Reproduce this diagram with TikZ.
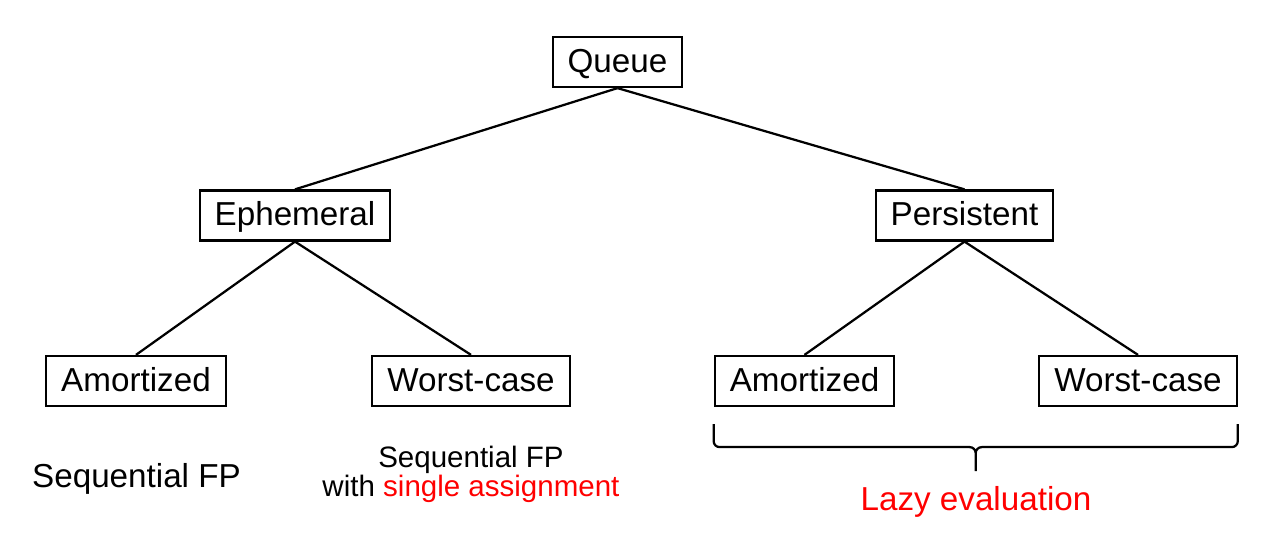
\documentclass[tikz,border=0pt]{standalone}
\usepackage{fontspec}
\setmainfont{Liberation Sans}
\usetikzlibrary{calc, positioning}
\tikzset{>=latex}

\begin{document}
\begin{tikzpicture}[font=\fontsize{18.9}{22}\selectfont]

        % Fix the canvas
        \useasboundingbox (0,0) rectangle (25.66,-10.78);

        % Setup the styles for the boxes and the notes
        \tikzset{box style/.style={draw=black,
                                   line width=0.045cm,
                                   inner xsep=0.3cm,
                                   text height=0.5cm,
                                   text depth=0.08cm,
                                   minimum height=1cm},
                 note style/.style={align=center,
                                    inner sep=0pt}}

        % Draw the boxes
        \node[box style] at (12.35, -1.24)  (queue)  {Queue};
        \node[box style] at (5.90, -4.31)   (eph)    {Ephemeral};
        \node[box style] at (19.29, -4.31)  (pers)   {Persistent};
        \node[box style] at (2.72, -7.62)   (aml)    {Amortized};
        \node[box style] at (9.42, -7.62)   (wcl)    {Worst-case};
        \node[box style] at (16.09, -7.62)  (amr)    {Amortized};
        \node[box style] at (22.76, -7.62)  (wcr)    {Worst-case};

        % Connect the boxes
        \draw[line width=0.045cm]
            (queue.south) edge (eph.north)
            (queue.south) edge (pers.north)
            (eph.south)   edge (aml.north)
            (eph.south)   edge (wcl.north)
            (pers.south)  edge (amr.north)
            (pers.south)  edge (wcr.north);

        % Notes under the boxes
        \node[note style] at (2.73, -9.58) (seqfp) {Sequential FP};
        \node[note style, font=\fontsize{16.8}{16.5}\selectfont]
            at (9.42, -9.49) (seqsa) {Sequential FP\\with \textcolor{red}{single assignment}};

        % The brace under the persistent side
        \coordinate (bl)  at ($(amr.south west)+(0,-0.34)$);
        \coordinate (br)  at ($(wcr.south east)+(0,-0.34)$);
        \coordinate (tip) at ($(bl)!0.5!(br)+(0,-0.94)$);
        \draw[line width=0.045cm, rounded corners=0.12cm]
            (bl) |- ($(tip)+(0,0.48)$) -- (tip)
            (br) |- ($(tip)+(0,0.48)$) -- (tip);
        \node[note style, text=red] at (19.52, -10.04) (lazy) {Lazy evaluation};
    \end{tikzpicture}
\end{document}
